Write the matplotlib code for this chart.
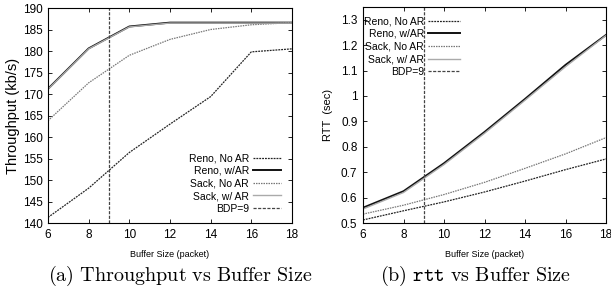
import matplotlib
matplotlib.use("Agg")
import matplotlib.pyplot as plt

plt.rcParams['font.family'] = ['Liberation Sans', 'DejaVu Sans']
plt.rcParams['mathtext.fontset'] = 'cm'

buf = [6, 8, 10, 12, 14, 16, 18]
bdp = 9

# throughput (kb/s)
thr_reno_noar = [141.3, 148.1, 156.4, 163.0, 169.4, 179.8, 180.5]
thr_reno_ar = [171.2, 180.6, 185.7, 186.6, 186.6, 186.6, 186.6]
thr_sack_noar = [163.8, 172.6, 179.0, 182.7, 185.0, 186.1, 186.6]
thr_sack_ar = [171.1, 180.5, 185.6, 186.5, 186.5, 186.5, 186.5]

# rtt (sec)
rtt_reno_noar = [0.512, 0.548, 0.583, 0.622, 0.665, 0.710, 0.752]
rtt_reno_ar = [0.560, 0.625, 0.735, 0.858, 0.988, 1.122, 1.240]
rtt_sack_noar = [0.535, 0.570, 0.612, 0.660, 0.715, 0.772, 0.836]
rtt_sack_ar = [0.555, 0.620, 0.730, 0.853, 0.983, 1.115, 1.238]

labels = ['Reno, No AR', 'Reno, w/AR', 'Sack, No AR', 'Sack, w/ AR', 'BDP=9']

fig = plt.figure(figsize=(6.11, 2.93), dpi=100)
W, H = 611, 293
ax1 = fig.add_axes([48 / W, 1 - 223 / H, 244 / W, 215 / H])
ax2 = fig.add_axes([363 / W, 1 - 223 / H, 243 / W, 216 / H])


def draw(ax, a, b, c, d):
    ax.plot(buf, a, color='#222222', lw=0.9, dashes=(1.5, 0.8), label=labels[0])
    ax.plot(buf, b, color='#111111', lw=1.4, label=labels[1])
    ax.plot(buf, c, color='#777777', lw=0.9, dashes=(1.2, 0.8), label=labels[2])
    ax.plot(buf, d, color='#aaaaaa', lw=1.0, label=labels[3])
    ax.axvline(bdp, color='#444444', lw=0.9, dashes=(2.5, 1.2), label=labels[4])
    ax.set_xlim(6, 18)
    ax.set_xticks(range(6, 19, 2))
    ax.tick_params(direction='in', length=3, width=0.6, labelsize=8.5, top=True, right=True, pad=4)
    for s in ax.spines.values():
        s.set_linewidth(0.8)
    ax.set_xlabel('Buffer Size (packet)', fontsize=6.5, labelpad=7)


draw(ax1, thr_reno_noar, thr_reno_ar, thr_sack_noar, thr_sack_ar)
ax1.set_ylim(140, 190)
ax1.set_yticks(range(140, 191, 5))
ax1.set_ylabel('Throughput (kb/s)', fontsize=10.5, labelpad=2)
leg1 = ax1.legend(loc='lower right', bbox_to_anchor=(0.995, 0.0), markerfirst=False, frameon=False,
                  fontsize=7.5, handlelength=2.7, handletextpad=0.4, labelspacing=0.25)

draw(ax2, rtt_reno_noar, rtt_reno_ar, rtt_sack_noar, rtt_sack_ar)
ax2.set_ylim(0.5, 1.35)
ax2.set_yticks([0.5, 0.6, 0.7, 0.8, 0.9, 1.0, 1.1, 1.2, 1.3])
ax2.set_yticklabels(['0.5', '0.6', '0.7', '0.8', '0.9', '1', '1.1', '1.2', '1.3'])
ax2.set_ylabel('RTT  (sec)', fontsize=8, labelpad=6)
leg2 = ax2.legend(loc='upper left', bbox_to_anchor=(-0.035, 1.0), markerfirst=False, frameon=False,
                  fontsize=7.5, handlelength=3.0, handletextpad=0.4, labelspacing=0.25)

fig.text(180 / W, 1 - 276 / H, r'$\mathrm{(a)\ Throughput\ vs\ Buffer\ Size}$', ha='center', va='center', fontsize=14.5)
fig.text(476 / W, 1 - 276 / H, r'$\mathrm{(b)}\ \mathtt{rtt}\ \mathrm{vs\ Buffer\ Size}$', ha='center', va='center', fontsize=14.5)

fig.savefig('out.png', dpi=100)
